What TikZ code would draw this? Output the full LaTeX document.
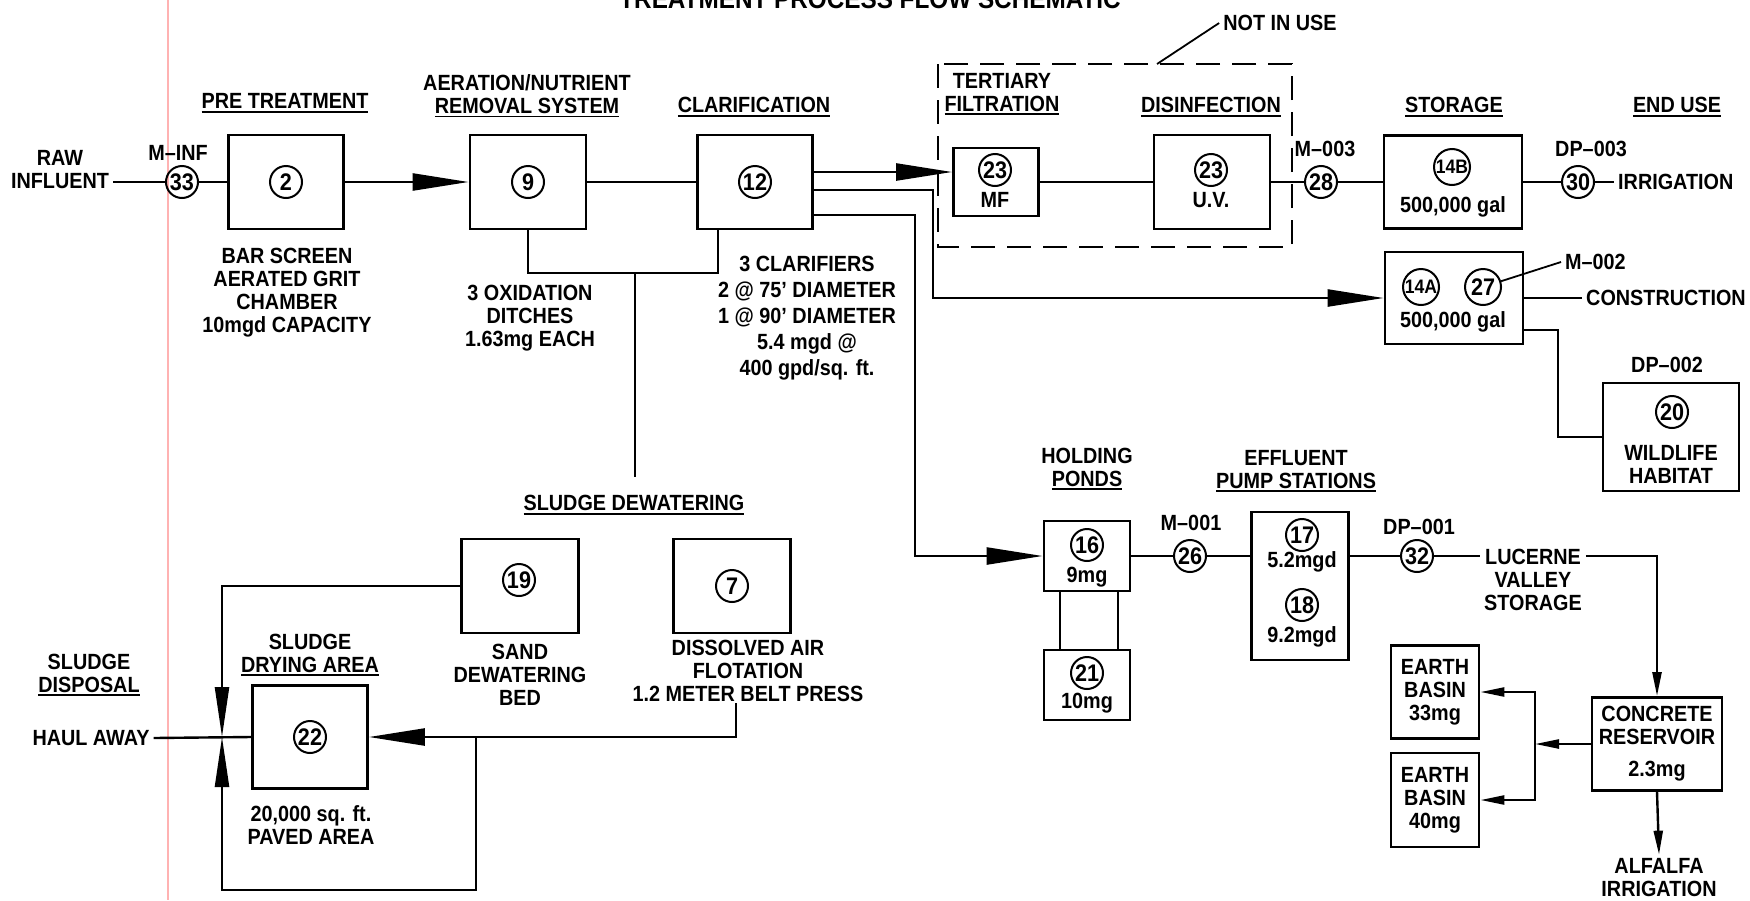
\documentclass[tikz,border=0pt]{standalone}
\usepackage{fontspec}
\setmainfont{Liberation Sans}[FakeStretch=0.9]
\usetikzlibrary{arrows.meta, positioning}
\newsavebox\ulbox
\newcommand{\ulin}[1]{\sbox\ulbox{#1}\rlap{\rule[-4pt]{\wd\ulbox}{1.8pt}}\usebox\ulbox}

\begin{document}
\begin{tikzpicture}[x=1pt, y=-1pt,
    lbl/.style = {font=\bfseries\fontsize{22}{23}\selectfont, align=center, inner sep=4pt},
    tank/.style = {draw, line width=2.8pt, inner sep=0pt},
    ring/.style = {circle, draw, line width=2pt, minimum size=32pt, inner sep=0pt, font=\bfseries\fontsize{24}{24}\selectfont},
    ringw/.style = {ring, minimum size=36pt, font=\bfseries\fontsize{19.5}{20}\selectfont},
    pipe/.style = {line width=2.4pt},
    flowbig/.style = {pipe, -{Triangle[length=56pt, width=17pt]}},
    flowmid/.style = {pipe, -{Triangle[length=50pt, width=14pt]}},
    flowsmall/.style = {pipe, -{Triangle[length=24pt, width=9pt]}},
    notuse/.style = {line width=2.2pt, dash pattern=on 24pt off 12pt} ]
  \useasboundingbox (0,0) rectangle (1750,900);
  \draw[red!30, line width=1.2pt] (168,0) -- (168,900);
  \node[lbl, font=\bfseries\fontsize{27}{28}\selectfont, anchor=base] (title) at (870,8) {TREATMENT PROCESS FLOW SCHEMATIC};

  % treatment train
  \node[lbl] (raw) at (60,170) {RAW\\INFLUENT};
  \node[ring] (c33) at (182,182) {33};
  \node[lbl] (minf) at (178,153) {M--INF};
  \node[tank, minimum width=115pt, minimum height=94pt] (b2) at (286,182) {};
  \node[ring] (c2) at (b2) {2};
  \node[lbl] (hpre) at (285,103) {\ulin{PRE TREATMENT}};
  \node[lbl] (bar) at (287,293) {BAR SCREEN\\AERATED GRIT\\CHAMBER\\10mgd CAPACITY};
  \node[tank, minimum width=116pt, minimum height=94pt] (b9) at (528,182) {};
  \node[ring] (c9) at (b9) {9};
  \node[lbl] (haer) at (527,96) {AERATION/NUTRIENT\\\ulin{REMOVAL SYSTEM}};
  \node[lbl] (oxd) at (530,318) {3 OXIDATION\\DITCHES\\1.63mg EACH};
  \node[tank, minimum width=115pt, minimum height=94pt] (b12) at (755,182) {};
  \node[ring] (c12) at (b12) {12};
  \node[lbl] (hclar) at (754,107) {\ulin{CLARIFICATION}};
  \node[lbl, font=\bfseries\fontsize{22}{26}\selectfont] (clar) at (807,318) {3 CLARIFIERS\\2 @ 75' DIAMETER\\1 @ 90' DIAMETER\\5.4 mgd @\\400 gpd/sq. ft.};

  % tertiary (not in use)
  \node[tank, minimum width=85pt, minimum height=68pt] (bmf) at (996,182) {};
  \node[ring] (c23a) at (995,170) {23};
  \node[lbl] (mf) at (995,200) {MF};
  \node[lbl] (hter) at (1002,94) {TERTIARY\\\ulin{FILTRATION}};
  \node[tank, minimum width=116pt, minimum height=94pt] (buv) at (1212,182) {};
  \node[ring] (c23b) at (1211,170) {23};
  \node[lbl] (uv) at (1211,200) {U.V.};
  \node[lbl] (hdis) at (1211,107) {\ulin{DISINFECTION}};
  \coordinate (nu1) at (938,64);
  \coordinate (nu2) at (1292,247);
  \coordinate (nul) at (1157,64);
  \node[lbl] (nuse) at (1280,23) {NOT IN USE};

  % storage and end use
  \node[ring] (c28) at (1321,182) {28};
  \node[lbl] (m003) at (1325,149) {M--003};
  \node[tank, minimum width=138pt, minimum height=93pt] (b14b) at (1453,182) {};
  \node[ringw] (c14b) at (1452,167) {14B};
  \node[lbl] (gal1) at (1453,207) {500,000 gal};
  \node[lbl] (hsto) at (1454,107) {\ulin{STORAGE}};
  \node[ring] (c30) at (1578,182) {30};
  \node[lbl] (dp003) at (1591,149) {DP--003};
  \node[lbl, anchor=west] (irr) at (1614,182) {IRRIGATION};
  \node[lbl] (hend) at (1677,107) {\ulin{END USE}};
  \node[tank, minimum width=138pt, minimum height=92pt] (b14a) at (1454,298) {};
  \node[ringw] (c14a) at (1421,287) {14A};
  \node[ring, minimum size=36pt] (c27) at (1483,287) {27};
  \node[lbl] (gal2) at (1453,322) {500,000 gal};
  \node[lbl, anchor=west] (m002) at (1561,262) {M--002};
  \node[lbl, anchor=west] (cons) at (1582,298) {CONSTRUCTION};
  \node[lbl] (dp002) at (1667,365) {DP--002};
  \node[tank, minimum width=136pt, minimum height=108pt] (b20) at (1671,437) {};
  \node[ring] (c20) at (1672,412) {20};
  \node[lbl] (wild) at (1671,464) {WILDLIFE\\HABITAT};

  % ponds and pump stations
  \node[lbl] (hhold) at (1087,469) {HOLDING\\\ulin{PONDS}};
  \node[tank, minimum width=86pt, minimum height=70pt] (b16) at (1087,556) {};
  \node[ring] (c16) at (1087,545) {16};
  \node[lbl] (mg9) at (1087,577) {9mg};
  \node[tank, minimum width=86pt, minimum height=70pt] (b21) at (1087,685) {};
  \node[ring] (c21) at (1087,673) {21};
  \node[lbl] (mg10) at (1087,703) {10mg};
  \node[ring] (c26) at (1190,556) {26};
  \node[lbl] (m001) at (1191,523) {M--001};
  \node[lbl] (heff) at (1296,471) {EFFLUENT\\\ulin{PUMP STATIONS}};
  \node[tank, minimum width=97pt, minimum height=148pt] (b17) at (1300,586) {};
  \node[ring] (c17) at (1302,535) {17};
  \node[lbl] (mgd52) at (1302,562) {5.2mgd};
  \node[ring] (c18) at (1302,605) {18};
  \node[lbl] (mgd92) at (1302,637) {9.2mgd};
  \node[ring] (c32) at (1417,556) {32};
  \node[lbl] (dp001) at (1419,527) {DP--001};
  \node[lbl] (luc) at (1533,580) {LUCERNE\\VALLEY\\STORAGE};
  \node[tank, lbl, minimum width=130pt, minimum height=93pt] (bcr) at (1657,744) {CONCRETE\\RESERVOIR\\[9pt]2.3mg};
  \node[tank, lbl, minimum width=88pt, minimum height=93pt] (beb1) at (1435,692) {EARTH\\BASIN\\33mg};
  \node[tank, lbl, minimum width=88pt, minimum height=94pt] (beb2) at (1435,800) {EARTH\\BASIN\\40mg};
  \node[lbl] (alf) at (1659,878) {ALFALFA\\IRRIGATION};

  % sludge handling
  \node[lbl] (hsdw) at (634,505) {\ulin{SLUDGE DEWATERING}};
  \node[tank, minimum width=117pt, minimum height=94pt] (b19) at (520,586) {};
  \node[ring] (c19) at (519,580) {19};
  \node[lbl] (sand) at (520,675) {SAND\\DEWATERING\\BED};
  \node[tank, minimum width=117pt, minimum height=94pt] (b7) at (732,586) {};
  \node[ring] (c7) at (b7) {7};
  \node[lbl] (dafl) at (748,671) {DISSOLVED AIR\\FLOTATION\\1.2 METER BELT PRESS};
  \node[tank, minimum width=115pt, minimum height=103pt] (b22) at (310,737) {};
  \node[ring] (c22) at (b22) {22};
  \node[lbl] (hdry) at (310,655) {SLUDGE\\\ulin{DRYING AREA}};
  \node[lbl] (paved) at (311,825) {20,000 sq. ft.\\PAVED AREA};
  \node[lbl] (hdisp) at (89,675) {SLUDGE\\\ulin{DISPOSAL}};
  \node[lbl] (haul) at (91,738) {HAUL AWAY};

  % connectors
  \coordinate (o1) at ([yshift=10pt]b12.east);
  \coordinate (o2) at ([yshift=-8pt]b12.east);
  \coordinate (o3) at ([yshift=-33pt]b12.east);
  \coordinate (k2) at (933,298);
  \coordinate (k3) at (915,556);
  \coordinate (k5) at (718,273);
  \coordinate (sdw) at (635,477);
  \coordinate (o4) at ([yshift=-32pt]b14a.east);
  \coordinate (k4) at (1558,437);
  \coordinate (jeb) at (1535,744);
  \coordinate (jsl) at (222,737);
  \coordinate (daf) at (736,703);
  \coordinate (lp1) at (476,737);
  \coordinate (lp2) at (476,890);

  \draw[pipe] (raw.east |- c33) -- (c33) -- (b2);
  \draw[flowbig] (b2) -- (b9);
  \draw[pipe] (b9) -- (b12);
  \draw[pipe] (b9.south) |- (k5) -- (k5 |- b12.south);
  \draw[pipe] (k5 -| sdw) -- (sdw);
  \draw[flowbig] (o1) -- (o1 -| bmf.west);
  \draw[flowbig] (o2) -| (k2) -- (k2 -| b14a.west);
  \draw[flowbig] (o3) -| (k3) -- (k3 -| b16.west);
  \draw[pipe] (bmf) -- (buv);
  \draw[notuse] (nu1) rectangle (nu2);
  \draw[pipe, line width=1.8pt] (nul) -- (nuse.west);
  \draw[pipe] (buv) -- (c28) -- (b14b) -- (c30) -- (irr.west);
  \draw[pipe, line width=1.8pt] (c27) -- (m002.west);
  \draw[pipe] (b14a.east) -- (cons.west);
  \draw[pipe] (o4) -| (k4) -- (k4 -| b20.west);
  \draw[pipe] ([xshift=-27pt]b16.south) -- ([xshift=-27pt]b21.north);
  \draw[pipe] ([xshift=31pt]b16.south) -- ([xshift=31pt]b21.north);
  \draw[pipe] (b16) -- (c26) -- (c26 -| b17.west);
  \draw[pipe] (c32 -| b17.east) -- (c32) -- (c32 -| luc.west);
  \draw[flowsmall] (c32 -| luc.east) -| (bcr.north);
  \draw[flowsmall] (bcr.south) -- (alf.north);
  \draw[flowsmall] (bcr.west) -- (jeb);
  \draw[flowsmall] (jeb) |- (beb1.east);
  \draw[flowsmall] (jeb) |- (beb2.east);
  \draw[flowmid] (b19.west) -| (jsl);
  \draw[flowbig] (daf) |- (b22.east);
  \draw[flowmid] (lp1) -- (lp2) -| (jsl);
  \draw[pipe] (b22.west) -- (haul.east);
\end{tikzpicture}
\end{document}
